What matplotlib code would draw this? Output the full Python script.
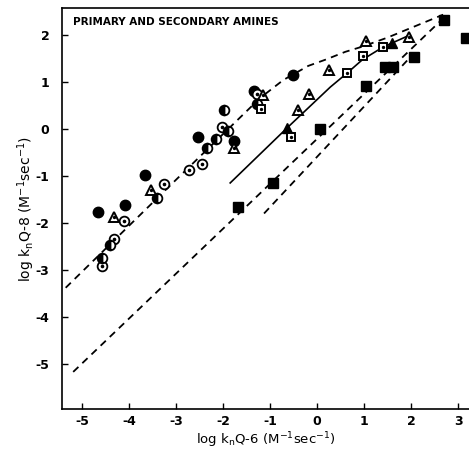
import matplotlib
matplotlib.use("Agg")
import matplotlib.pyplot as plt

plt.rcParams["font.family"] = ["DejaVu Sans"]
plt.rcParams["mathtext.default"] = "regular"
plt.rcParams["axes.unicode_minus"] = False

# data (log k_n Q-6, log k_n Q-8)
filled_circle_x = [-4.66, -4.09, -3.66, -2.53, -1.77, -1.34, -0.51]
filled_circle_y = [-1.77, -1.62, -0.98, -0.17, -0.26, 0.81, 1.15]

open_circle_x = [-4.57, -4.32, -4.11, -3.26, -2.72, -2.45, -2.02, -1.28]
open_circle_y = [-2.91, -2.34, -1.96, -1.17, -0.87, -0.74, 0.04, 0.74]

half_circle_x = [-4.57, -4.40, -3.40, -2.34, -2.15, -1.89, -1.98, -1.28]
half_circle_y = [-2.74, -2.47, -1.47, -0.40, -0.21, -0.04, 0.40, 0.53]

open_tri_x = [-4.32, -3.53, -1.77, -1.15, -0.40, -0.17, 0.26, 1.04, 1.96]
open_tri_y = [-1.87, -1.30, -0.40, 0.72, 0.40, 0.74, 1.26, 1.87, 1.96]

filled_tri_x = [-0.64, 1.60]
filled_tri_y = [0.02, 1.83]

open_sq_x = [-1.19, -0.55, 0.64, 0.98, 1.40]
open_sq_y = [0.43, -0.17, 1.19, 1.55, 1.74]

filled_sq_x = [-1.68, -0.94, 0.06, 1.04, 1.45, 1.62, 2.06, 2.70, 3.17]
filled_sq_y = [-1.66, -1.15, 0.0, 0.91, 1.32, 1.32, 1.53, 2.32, 1.94]

# drawn correlation lines
upper_x = [-5.35, -3.0, -1.21, -0.72, -0.19, 0.17, 0.60, 0.96, 1.49, 2.68]
upper_y = [-3.38, -1.08, 0.66, 1.04, 1.34, 1.47, 1.64, 1.75, 1.94, 2.43]

solid_x = [-1.85, -0.64, 0.28, 0.64, 0.96, 1.40, 1.98]
solid_y = [-1.15, 0.02, 0.89, 1.19, 1.47, 1.74, 2.00]

middle_x = [-5.19, 2.68]
middle_y = [-5.17, 2.35]

lower_x = [-1.13, 2.05]
lower_y = [-1.80, 1.60]

fig = plt.figure(figsize=(4.69, 4.49), dpi=100)
ax = fig.add_axes([0.132, 0.089, 0.868, 0.893])

dash = dict(color="black", lw=1.3, dashes=(4, 3))
ax.plot(upper_x, upper_y, **dash)
ax.plot(middle_x, middle_y, **dash)
ax.plot(lower_x, lower_y, **dash)
ax.plot(solid_x, solid_y, color="black", lw=1.2)

ms = 7
ax.plot(filled_circle_x, filled_circle_y, "o", ms=ms + 0.5, color="black")
ax.plot(open_circle_x, open_circle_y, "o", ms=ms, mfc="white", mec="black", mew=1.3)
ax.plot(open_circle_x, open_circle_y, "o", ms=1.6, color="black")
ax.plot(half_circle_x, half_circle_y, "o", ms=ms, mec="black", mew=1.3,
        fillstyle="left", mfc="black", mfcalt="white")
ax.plot(open_tri_x, open_tri_y, "^", ms=ms, mfc="white", mec="black", mew=1.4)
ax.plot(open_tri_x, open_tri_y, "o", ms=1.4, color="black")
ax.plot(filled_tri_x, filled_tri_y, "^", ms=ms, color="black")
ax.plot(open_sq_x, open_sq_y, "s", ms=ms - 1, mfc="white", mec="black", mew=1.4)
ax.plot(open_sq_x, open_sq_y, "o", ms=1.4, color="black")
ax.plot(filled_sq_x, filled_sq_y, "s", ms=ms - 0.5, color="black")

ax.set_xlim(-5.43, 3.23)
ax.set_ylim(-5.96, 2.57)
ax.set_xticks(range(-5, 4))
ax.set_yticks(range(-5, 3))
ax.tick_params(direction="in", length=4, width=1, labelsize=9)
ax.tick_params(axis="y", pad=9)
ax.tick_params(axis="x", pad=4)
for lab in ax.get_xticklabels() + ax.get_yticklabels():
    lab.set_fontweight("bold")
ax.spines["right"].set_visible(False)
for s in ["left", "bottom", "top"]:
    ax.spines[s].set_linewidth(1.2)

ax.text(0.027, 0.978, "PRIMARY AND SECONDARY AMINES", transform=ax.transAxes,
        fontsize=7.5, fontweight="bold", va="top", ha="left")

ax.set_xlabel("log k$_n$Q-6 (M$^{-1}$sec$^{-1}$)", fontsize=9.5, labelpad=2)
ax.set_ylabel("log k$_n$Q-8 (M$^{-1}$sec$^{-1}$)", fontsize=10)
ax.yaxis.set_label_coords(-0.062, 0.5)

fig.savefig("out.png", dpi=100)
